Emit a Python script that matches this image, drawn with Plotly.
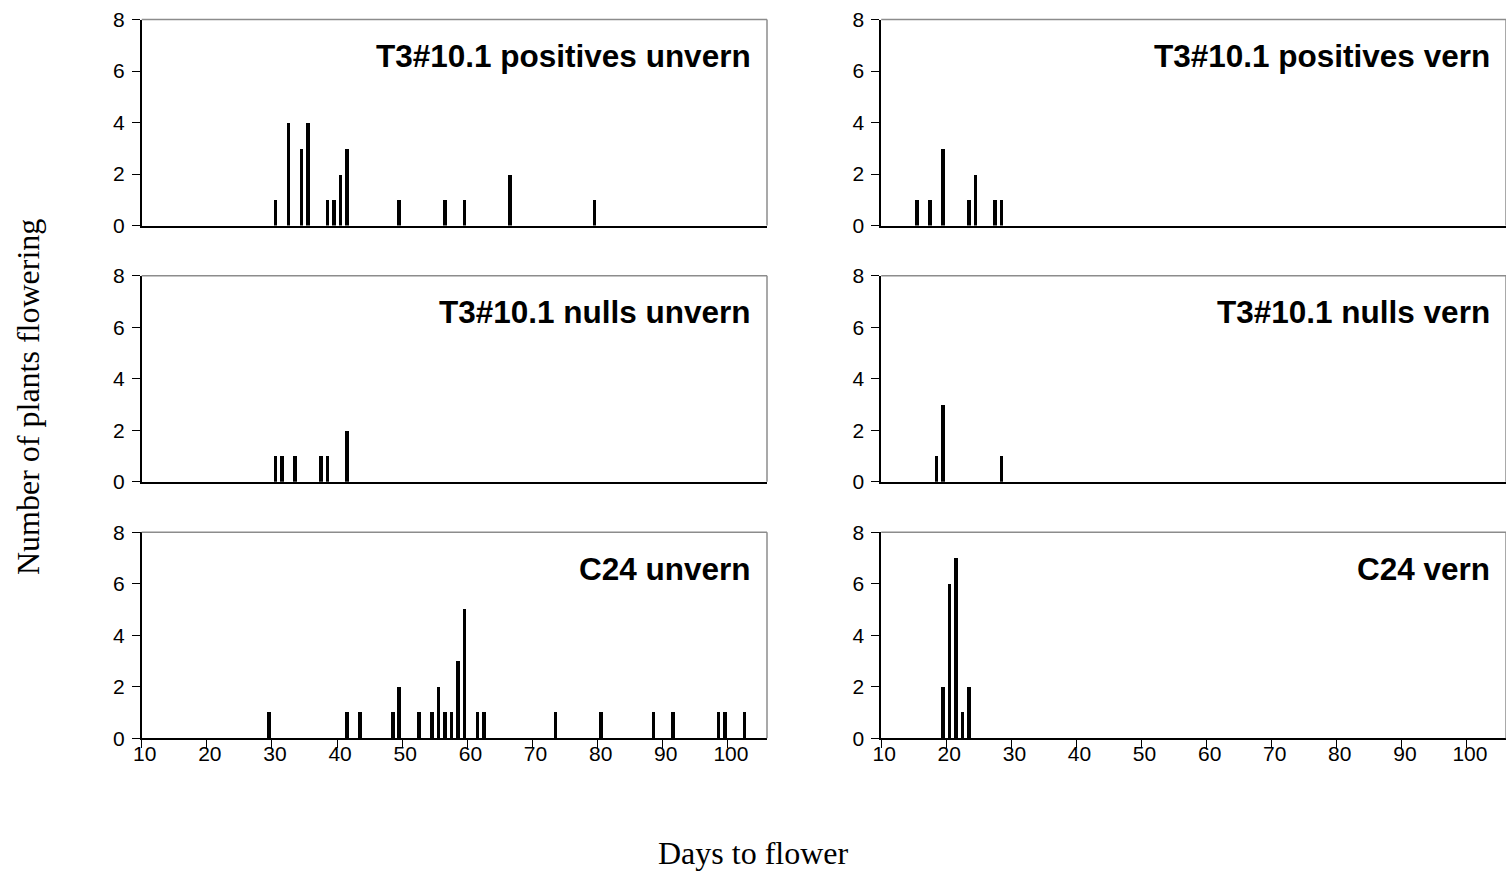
import plotly.graph_objects as go
from plotly.subplots import make_subplots

# ---- data (days to flower -> number of plants) ----
pos_unvern_days = [30, 32, 34, 35, 38, 39, 40, 41, 49, 56, 59, 66, 79]
pos_unvern_counts = [1, 4, 3, 4, 1, 1, 2, 3, 1, 1, 1, 2, 1]

pos_vern_days = [15, 17, 19, 23, 24, 27, 28]
pos_vern_counts = [1, 1, 3, 1, 2, 1, 1]

null_unvern_days = [30, 31, 33, 37, 38, 41]
null_unvern_counts = [1, 1, 1, 1, 1, 2]

null_vern_days = [18, 19, 28]
null_vern_counts = [1, 3, 1]

c24_unvern_days = [29, 41, 43, 48, 49, 52, 54, 55, 56, 57, 58, 59, 61, 62, 73, 80, 88, 91, 98, 99, 102]
c24_unvern_counts = [1, 1, 1, 1, 2, 1, 1, 2, 1, 1, 3, 5, 1, 1, 1, 1, 1, 1, 1, 1, 1]

c24_vern_days = [19, 20, 21, 22, 23]
c24_vern_counts = [2, 6, 7, 1, 2]

panel_titles = [
    "T3#10.1 positives unvern", "T3#10.1 positives vern",
    "T3#10.1 nulls unvern", "T3#10.1 nulls vern",
    "C24 unvern", "C24 vern",
]
x_tick_labels = ["10", "20", "30", "40", "50", "60", "70", "80", "90", "100"]
y_tick_values = [0, 2, 4, 6, 8]

series = [
    (pos_unvern_days, pos_unvern_counts), (pos_vern_days, pos_vern_counts),
    (null_unvern_days, null_unvern_counts), (null_vern_days, null_vern_counts),
    (c24_unvern_days, c24_unvern_counts), (c24_vern_days, c24_vern_counts),
]

W, H = 1506, 872
fig = make_subplots(rows=3, cols=2)

# pixel geometry of plot areas
x_left = [(141.7, 767.0), (881.2, 1506.5)]
y_rows = [(19.5, 225.5), (275.8, 481.8), (532.2, 738.3)]

AX = "Liberation Sans"
for i, ((days, counts), title) in enumerate(zip(series, panel_titles)):
    r, c = i // 2, i % 2
    fig.add_trace(
        go.Bar(x=days, y=counts, width=0.55, marker=dict(color="black", line=dict(width=0)),
               showlegend=False, hoverinfo="x+y"),
        row=r + 1, col=c + 1,
    )
    n = i + 1
    xa = "xaxis" if n == 1 else f"xaxis{n}"
    ya = "yaxis" if n == 1 else f"yaxis{n}"
    x0, x1 = x_left[c]
    yt, yb = y_rows[r]
    bottom = r == 2
    fig.layout[xa].update(
        domain=[x0 / W, min(x1 / W, 1.0)],
        range=[9.5, 105.5],
        showline=True, linecolor="black", linewidth=1.5,
        showgrid=False, zeroline=False,
        tickmode="array",
        tickvals=[int(t) - 0.5 for t in x_tick_labels] if bottom else [],
        ticktext=x_tick_labels if bottom else [],
        ticks="outside" if bottom else "",
        ticklen=8, tickwidth=1.3, tickcolor="black",
        showticklabels=bottom,
        ticklabelshift=3,
        ticklabelstandoff=-12,
        tickfont=dict(family=AX, size=21, color="black"),
        automargin=False,
        fixedrange=True,
    )
    fig.layout[ya].update(
        domain=[1 - yb / H, 1 - yt / H],
        range=[0, 8],
        showline=True, linecolor="black", linewidth=1.5,
        showgrid=False, zeroline=False,
        tickmode="array", tickvals=y_tick_values,
        ticks="outside", ticklen=8, tickwidth=1.3, tickcolor="black",
        ticklabelstandoff=3,
        tickfont=dict(family=AX, size=21, color="black"),
        automargin=False,
        fixedrange=True,
    )
    xd = ("x" if n == 1 else f"x{n}") + " domain"
    yd = ("y" if n == 1 else f"y{n}") + " domain"
    # gray top and right borders of plot area
    fig.add_shape(type="line", xref=xd, yref=yd, x0=0, x1=1, y0=1, y1=1,
                  line=dict(color="#8c8c8c", width=1.5))
    fig.add_shape(type="line", xref=xd, yref=yd, x0=1, x1=1, y0=0, y1=1,
                  line=dict(color="#8c8c8c", width=1.5))
    fig.add_annotation(
        text=f"<b>{title}</b>", xref=xd, yref=yd, x=0.978, y=0.823,
        xanchor="right", yanchor="middle", showarrow=False,
        font=dict(family=AX, size=31.5, color="black"),
    )

fig.add_annotation(
    text="Number of plants flowering", xref="paper", yref="paper",
    x=28 / W, y=1 - 397 / H, textangle=-90, showarrow=False,
    xanchor="center", yanchor="middle",
    font=dict(family="Liberation Serif", size=32, color="black"),
)
fig.add_annotation(
    text="Days to flower", xref="paper", yref="paper",
    x=753 / W, y=1 - 853 / H, showarrow=False,
    xanchor="center", yanchor="middle",
    font=dict(family="Liberation Serif", size=32, color="black"),
)

fig.update_layout(
    width=W, height=H,
    margin=dict(l=0, r=0, t=0, b=0, autoexpand=False),
    paper_bgcolor="white", plot_bgcolor="white",
    bargap=0, showlegend=False,
)

fig.write_html("out.html", config={"displayModeBar": False})
